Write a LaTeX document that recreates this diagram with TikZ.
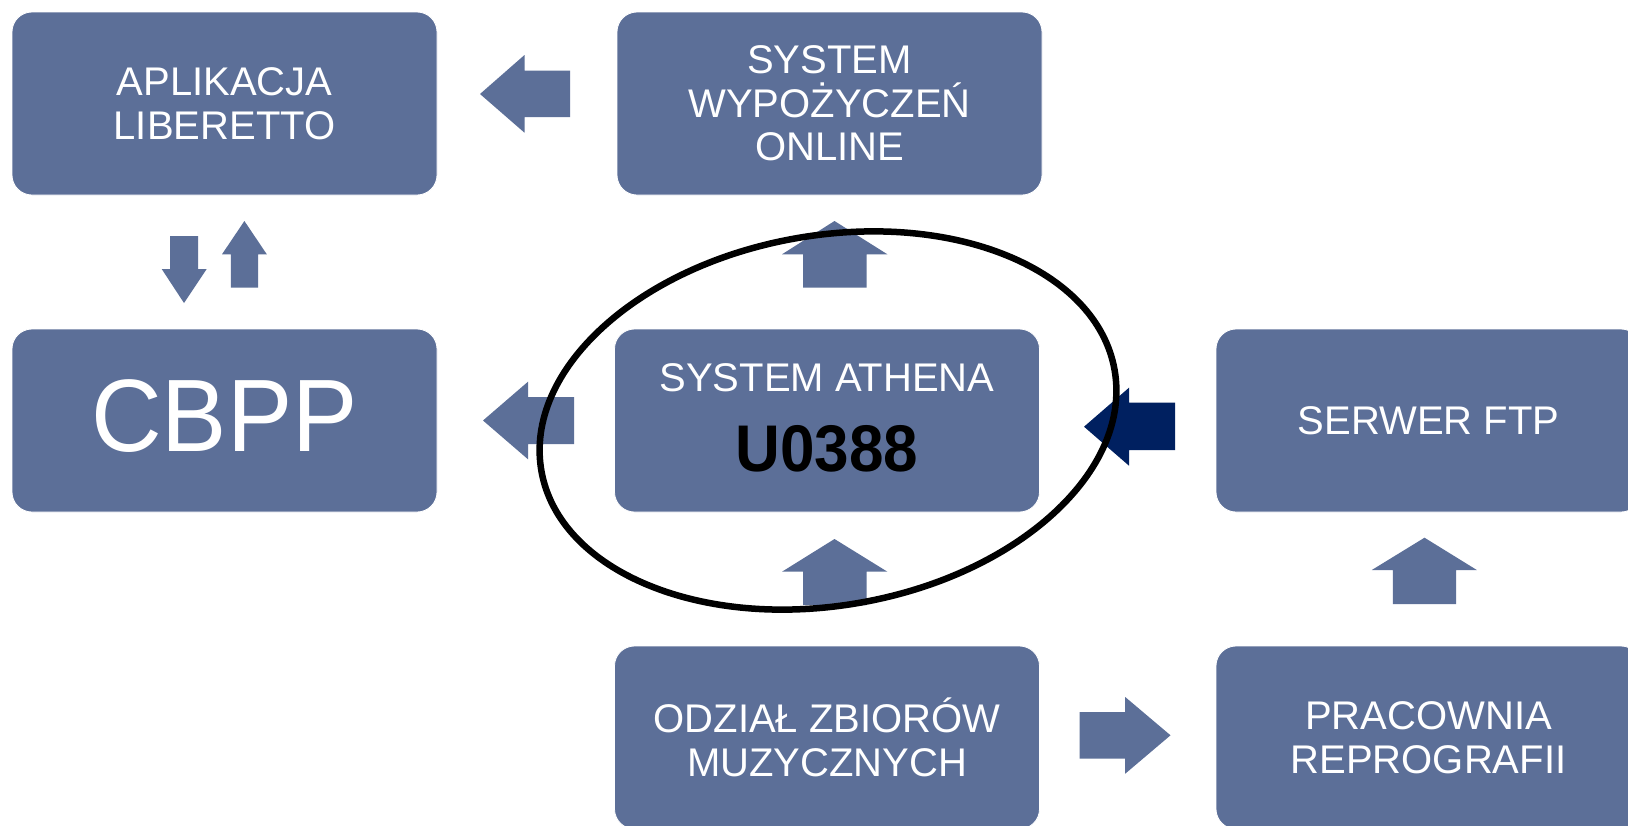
\documentclass[tikz,border=0pt]{standalone}
\usepackage{fontspec}
\setmainfont{Liberation Sans}
\definecolor{boxblue}{RGB}{92,111,152}
\definecolor{darknavy}{RGB}{0,32,96}
\begin{document}
\begin{tikzpicture}[x=1pt,y=-1pt,
  box/.style={rectangle, rounded corners=20pt, fill=boxblue, draw=white, line width=0.8pt,
    minimum width=425pt, minimum height=183pt, inner sep=0pt, text=white, align=center,
    font=\fontsize{40}{43.5}\selectfont},
  lbl/.style={inner sep=0pt, anchor=base},
  barrow/.style={fill=boxblue},
  darrow/.style={fill=darknavy},
  ring/.style={draw=black, line width=6.5pt}]
\useasboundingbox (0,0) rectangle (1628,825);
\fill[white] (0,0) rectangle (1628,825);
\clip (0,0) rectangle (1628,825);

% boxes
\node[box] (A) at (224.5,103.5) {APLIKACJA\\LIBERETTO};
\node[box] (W) at (829.5,103.5) {SYSTEM\\WYPOŻYCZEŃ\\ONLINE};
\node[box] (C) at (224.5,420.5) {};
\node[lbl, text=white, font=\fontsize{103}{110}\selectfont] (Ct) at ([yshift=-31pt]C.center) {\scalebox{0.95}[1]{CBPP}};
\node[box] (S) at (827,420.5) {};
\node[lbl, text=white, font=\fontsize{40}{43.5}\selectfont] (Sa) at ([yshift=29.5pt]S.center) {SYSTEM ATHENA};
\node[lbl, text=black, font=\fontsize{66}{70}\selectfont\bfseries] (Sb) at ([yshift=-51.2pt]S.center) {\scalebox{0.94}[1]{U0388}};
\node[box] (F) at (1428.5,420.5) {SERWER FTP};
\node[box] (O) at (827,737.5) {ODZIAŁ ZBIORÓW\\MUZYCZNYCH};
\node[box] (P) at (1428.5,737.5) {PRACOWNIA\\REPROGRAFII};

% block arrows
% W -> A
\fill[barrow] (480,94) -- (524.5,55) -- (524.5,70.5) -- (570,70.5) -- (570,117) -- (524.5,117) -- (524.5,132.7) -- cycle;
% A -> C (down)
\fill[barrow] (184,303) -- (161.7,269) -- (170,269) -- (170,236) -- (198,236) -- (198,269) -- (206.7,269) -- cycle;
% C -> A (up)
\fill[barrow] (244.4,221) -- (266.8,254.3) -- (258,254.3) -- (258,287.7) -- (230.8,287.7) -- (230.8,254.3) -- (222,254.3) -- cycle;
% S -> C
\fill[barrow] (483,420.5) -- (528,381.7) -- (528,397) -- (574,397) -- (574,444) -- (528,444) -- (528,459.3) -- cycle;
% S -> W (up)
\fill[barrow] (834.5,221) -- (887.4,254.3) -- (866.7,254.3) -- (866.7,287.7) -- (803,287.7) -- (803,254.3) -- (782,254.3) -- cycle;
% O -> S (up)
\fill[barrow] (834.5,539) -- (887.4,571.7) -- (866.7,571.7) -- (866.7,605) -- (803,605) -- (803,571.7) -- (782,571.7) -- cycle;
% F -> S (dark)
\fill[darrow] (1084,426.7) -- (1129,387.7) -- (1129,402.7) -- (1175,402.7) -- (1175,450) -- (1129,450) -- (1129,465.7) -- cycle;
% P -> F (up)
\fill[barrow] (1424.5,537.7) -- (1476.8,570) -- (1456.2,570) -- (1456.2,604) -- (1392.8,604) -- (1392.8,570) -- (1371.8,570) -- cycle;
% O -> P
\fill[barrow] (1170.5,735.3) -- (1125.2,697) -- (1125.2,712) -- (1079.5,712) -- (1079.5,758.7) -- (1125.2,758.7) -- (1125.2,773.7) -- cycle;

% ring around S
\draw[ring, rotate around={10:(828,420.5)}] (828,420.5) ellipse [x radius=291, y radius=185];
\end{tikzpicture}
\end{document}
